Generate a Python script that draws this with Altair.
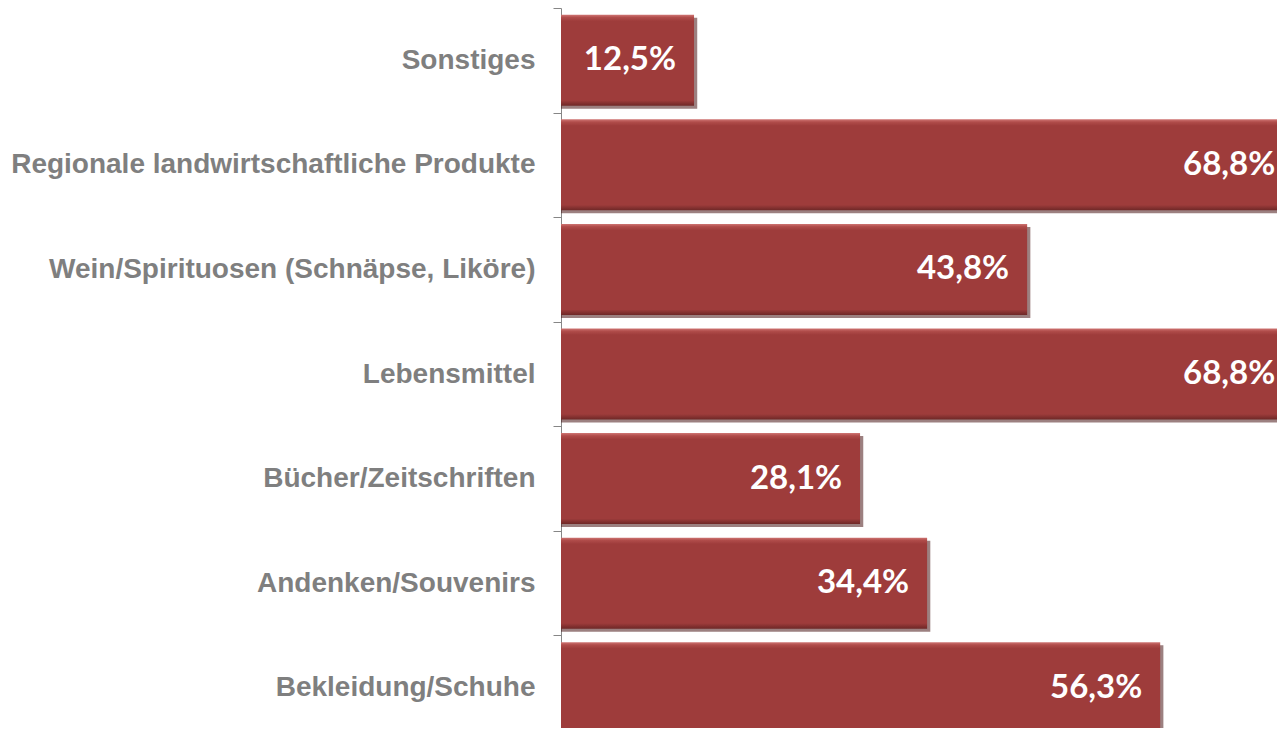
import altair as alt
import pandas as pd

categories = [
    "Sonstiges",
    "Regionale landwirtschaftliche Produkte",
    "Wein/Spirituosen (Schnäpse, Liköre)",
    "Lebensmittel",
    "Bücher/Zeitschriften",
    "Andenken/Souvenirs",
    "Bekleidung/Schuhe",
]
values = [12.5, 68.8, 43.8, 68.8, 28.1, 34.4, 56.3]
value_labels = ["12,5%", "68,8%", "43,8%", "68,8%", "28,1%", "34,4%", "56,3%"]

df = pd.DataFrame({"category": categories, "value": values, "label": value_labels})

y_enc = alt.Y(
    "category:N",
    sort=categories,
    title=None,
    scale=alt.Scale(range=[0, 732], paddingInner=0, paddingOuter=0),
    axis=alt.Axis(
        tickBand="extent",
        domainColor="#868686",
        tickColor="#868686",
        tickSize=8,
        labelPadding=18,
        labelFont="Liberation Sans",
        labelFontWeight="bold",
        labelFontSize=28,
        labelColor="#7f7f7f",
        labelLimit=700,
        grid=False,
    ),
)
x_scale = alt.Scale(domain=[0, 70], range=[0, 745])

base = alt.Chart(df)

band_h = alt.RelativeBandSize(0.87)

shadow = base.transform_calculate(shadow_end="datum.value + 0.3").mark_bar(
    color="#4a1818", opacity=0.55, height=band_h
).encode(
    y=y_enc,
    x=alt.X("shadow_end:Q", scale=x_scale, axis=None),
    yOffset=alt.value(3),
)

bars = base.mark_bar(
    height=band_h,
    color=alt.Gradient(
        gradient="linear",
        x1=0, x2=0, y1=0, y2=1,
        stops=[
            alt.GradientStop(color="#cf7573", offset=0),
            alt.GradientStop(color="#b04c4a", offset=0.03),
            alt.GradientStop(color="#9e3c3b", offset=0.07),
            alt.GradientStop(color="#9e3c3b", offset=0.94),
            alt.GradientStop(color="#6e2827", offset=1),
        ],
    ),
).encode(
    y=y_enc,
    x=alt.X("value:Q", scale=x_scale, axis=None),
)

text = base.mark_text(
    align="right",
    baseline="middle",
    dx=-18,
    font="Lato",
    fontWeight="bold",
    fontSize=33,
    color="white",
).encode(
    y=y_enc,
    x=alt.X("value:Q", scale=x_scale, axis=None),
    text="label:N",
)

chart = (
    alt.layer(shadow, bars, text)
    .properties(
        width=716,
        height=720,
        autosize=alt.AutoSizeParams(type="none"),
        padding={"left": 553, "top": 0, "right": 0, "bottom": 0},
    )
    .configure_view(strokeWidth=0)
)

chart.save("out.html", embed_options={"renderer": "svg", "actions": False})
